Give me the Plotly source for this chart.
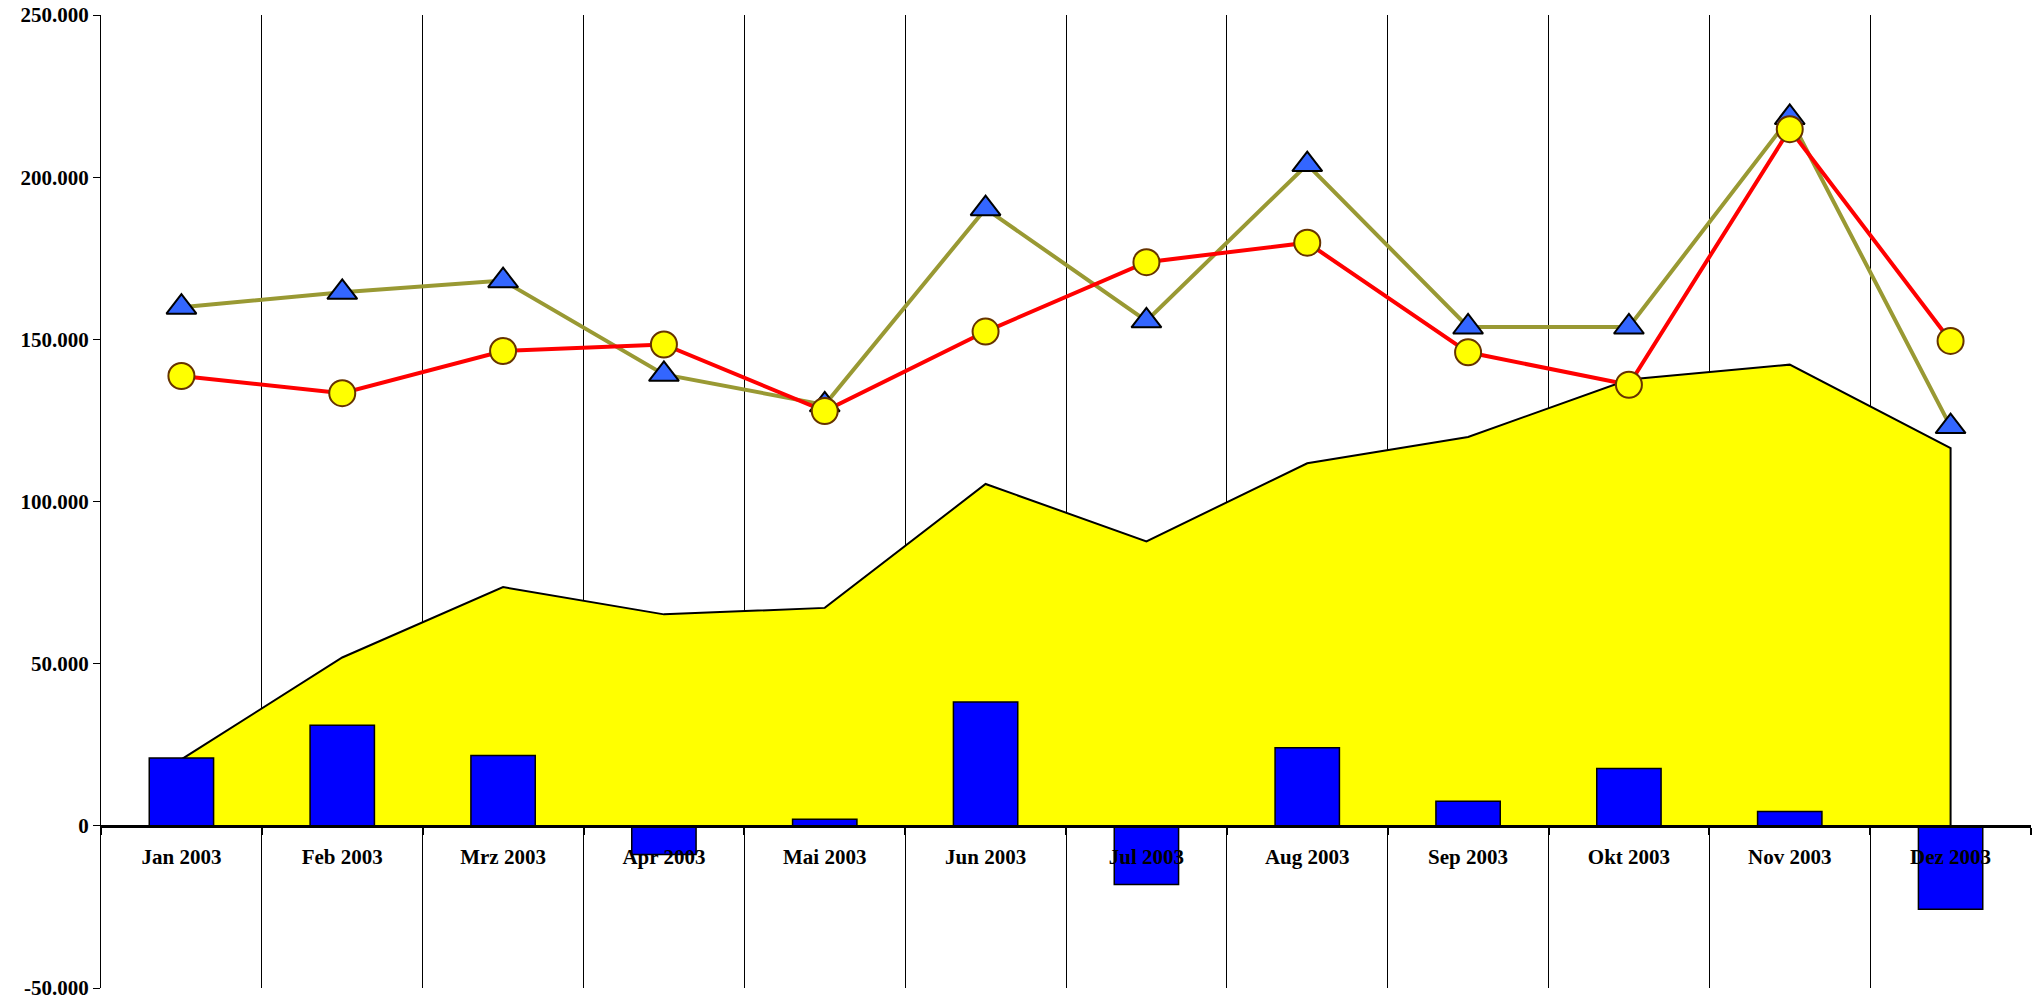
import plotly.graph_objects as go

categories = ["Jan 2003", "Feb 2003", "Mrz 2003", "Apr 2003", "Mai 2003", "Jun 2003",
              "Jul 2003", "Aug 2003", "Sep 2003", "Okt 2003", "Nov 2003", "Dez 2003"]

area_values = [20500, 51900, 73600, 65200, 67200, 105400, 87700, 111800, 119900, 137600, 142200, 116500]
bar_values = [20900, 31000, 21700, -8850, 2000, 38200, -18100, 24100, 7600, 17700, 4400, -25700]
triangle_values = [159900, 164500, 168100, 139200, 129800, 190300, 155700, 203900, 153800, 153800, 218400, 123100]
circle_values = [138700, 133400, 146400, 148400, 127900, 152400, 173800, 179800, 146000, 136000, 214800, 149500]

y_tickvals = [-50000, 0, 50000, 100000, 150000, 200000, 250000]
y_ticktext = ["-50.000", "0", "50.000", "100.000", "150.000", "200.000", "250.000"]

y_range = [-50000, 250000]
zero_pos = (0 - y_range[0]) / (y_range[1] - y_range[0])

font_fam = "Liberation Serif"

fig = go.Figure()

# Area (closed polygon down to zero at both ends) on base axis
fig.add_trace(go.Scatter(
    x=[categories[0]] + categories + [categories[-1]],
    y=[0] + area_values + [0],
    mode="lines", fill="toself", fillcolor="#FFFF00",
    line=dict(color="black", width=2),
    xaxis="x", yaxis="y", showlegend=False, hoverinfo="skip",
))

fig.add_trace(go.Bar(
    x=categories, y=bar_values, width=0.4,
    marker=dict(color="#0000FF", line=dict(color="black", width=1.5)),
    xaxis="x", yaxis="y2", showlegend=False,
))

fig.add_trace(go.Scatter(
    x=categories, y=triangle_values, mode="lines+markers",
    line=dict(color="#999933", width=4),
    marker=dict(symbol="triangle-up", size=26, color="#3366FF",
                line=dict(color="black", width=2)),
    xaxis="x", yaxis="y2", showlegend=False,
))

fig.add_trace(go.Scatter(
    x=categories, y=circle_values, mode="lines+markers",
    line=dict(color="#FF0000", width=4),
    marker=dict(symbol="circle", size=26, color="#FFFF00",
                line=dict(color="#663300", width=2)),
    xaxis="x", yaxis="y2", showlegend=False,
))

fig.update_layout(
    width=2039, height=999,
    margin=dict(l=101, r=8, t=15, b=11, autoexpand=False),
    paper_bgcolor="white", plot_bgcolor="white",
    font=dict(family=font_fam, size=21, color="black", weight="bold"),
    xaxis=dict(
        type="category", categoryorder="array", categoryarray=categories,
        range=[-0.5, len(categories) - 0.5],
        tickson="boundaries", ticks="outside", ticklen=7, tickwidth=1.5, tickcolor="black",
        showgrid=True, gridcolor="black", gridwidth=1,
        showline=True, linecolor="black", linewidth=2.5,
        anchor="free", position=zero_pos,
        tickfont=dict(family=font_fam, size=21, color="black", weight="bold"),
        ticklabelstandoff=11,
        ticklabeloverflow="allow",
        automargin=False,
        layer="above traces",
    ),
    yaxis=dict(
        range=y_range, tickvals=y_tickvals, ticktext=y_ticktext,
        ticks="outside", ticklen=7, tickcolor="black", tickwidth=1,
        showgrid=False, zeroline=False,
        showline=True, linecolor="black", linewidth=1,
        ticklabeloverflow="allow",
        automargin=False,
        tickfont=dict(family=font_fam, size=21, color="black", weight="bold"),
    ),
    yaxis2=dict(
        range=y_range, overlaying="y", visible=False, showgrid=False, zeroline=False,
        automargin=False,
    ),
)

fig.write_html("out.html", config={"displayModeBar": False},
               post_script="document.body.style.margin='0';")
